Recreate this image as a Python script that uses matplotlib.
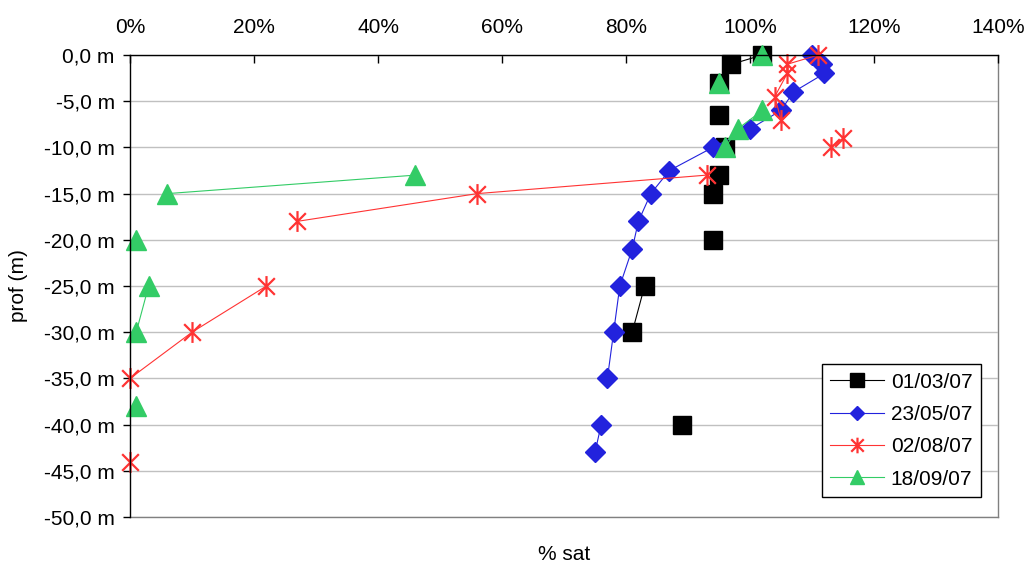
import numpy as np
import matplotlib
matplotlib.use("Agg")
import matplotlib.pyplot as plt
from matplotlib.path import Path
from matplotlib.ticker import FuncFormatter, MultipleLocator

plt.rcParams['font.family'] = ['Liberation Sans', 'DejaVu Sans']

nan = np.nan

# 01/03/07  (nan = trou dans la serie)
prof_1 = [0, -1, -3, nan, -6.5, nan, -10, nan, -13, -15, nan, -20, nan, -25, -30, nan, -40]
sat_1 = [1.02, 0.97, 0.95, nan, 0.95, nan, 0.96, nan, 0.95, 0.94, nan, 0.94, nan, 0.83, 0.81, nan, 0.89]

# 23/05/07
prof_2 = [0, -1, -2, -4, -6, -8, -10, -12.5, -15, -18, -21, -25, -30, -35, nan, -40, -43]
sat_2 = [1.10, 1.116, 1.12, 1.07, 1.05, 1.00, 0.94, 0.87, 0.84, 0.82, 0.81, 0.79, 0.78, 0.77, nan, 0.76, 0.75]

# 02/08/07
prof_3 = [0, -1, -2, -4.5, -7, nan, -9, -10, nan, -13, -15, -18, nan, -25, -30, -35, nan, -44]
sat_3 = [1.11, 1.06, 1.06, 1.04, 1.05, nan, 1.15, 1.13, nan, 0.93, 0.56, 0.27, nan, 0.22, 0.10, 0.0, nan, 0.0]

# 18/09/07
prof_4 = [0, nan, -3, nan, -6, -8, -10, nan, -13, -15, nan, -20, nan, -25, -30, nan, -38]
sat_4 = [1.02, nan, 0.95, nan, 1.02, 0.98, 0.96, nan, 0.46, 0.06, nan, 0.01, nan, 0.03, 0.01, nan, 0.01]

labels = ["01/03/07", "23/05/07", "02/08/07", "18/09/07"]

# marqueur etoile facon Excel
etoile = Path([(0, -1), (0, 1), (-0.8, -0.8), (0.8, 0.8), (-0.8, 0.8), (0.8, -0.8)],
              [Path.MOVETO, Path.LINETO, Path.MOVETO, Path.LINETO, Path.MOVETO, Path.LINETO])

fig = plt.figure(figsize=(10.28, 5.66), dpi=100)
ax = fig.add_axes([0.1265, 0.0866, 0.8443, 0.8162])

ax.plot(sat_1, prof_1, '-', color='black', lw=0.8, marker='s', ms=13.5,
        mfc='black', mec='black', label=labels[0], clip_on=False)
ax.plot(sat_2, prof_2, '-', color='#2222DD', lw=0.8, marker='D', ms=10,
        mfc='#2222DD', mec='#2222DD', label=labels[1], clip_on=False)
ax.plot(sat_3, prof_3, '-', color='#FF3333', lw=0.8, marker=etoile, ms=15,
        mew=1.6, mfc='#FF3333', mec='#FF3333', label=labels[2], clip_on=False)
ax.plot(sat_4, prof_4, '-', color='#33CC66', lw=0.8, marker='^', ms=14,
        mfc='#33CC66', mec='#33CC66', label=labels[3], clip_on=False)

ax.set_xlim(0, 1.4)
ax.set_ylim(-50, 0)
ax.xaxis.set_major_locator(MultipleLocator(0.2))
ax.yaxis.set_major_locator(MultipleLocator(5))
ax.xaxis.set_major_formatter(FuncFormatter(lambda v, p: "%d%%" % round(v * 100)))
ax.yaxis.set_major_formatter(FuncFormatter(lambda v, p: ("%.1f m" % v).replace(".", ",")))

ax.xaxis.tick_top()
ax.tick_params(axis='x', direction='in', length=6, width=1, pad=13, labelsize=15)
ax.tick_params(axis='y', direction='out', length=5, width=1, pad=6, labelsize=15)

ax.grid(axis='y', color='#C0C0C0', lw=1)
ax.set_axisbelow(True)

ax.spines['left'].set_color('black')
ax.spines['top'].set_color('black')
ax.spines['right'].set_color('#808080')
ax.spines['bottom'].set_color('#808080')
for s in ax.spines.values():
    s.set_linewidth(1)
ax.spines['right'].set_zorder(0.5)
ax.spines['bottom'].set_zorder(0.5)

ax.xaxis.set_label_position('bottom')
ax.set_xlabel("% sat", fontsize=15, labelpad=20)
ax.set_ylabel("prof (m)", fontsize=15)
ax.yaxis.set_label_coords(-0.118, 0.5)

leg = ax.legend(loc='lower right', bbox_to_anchor=(0.980, 0.043), borderaxespad=0,
                fontsize=15, fancybox=False, framealpha=1, edgecolor='black',
                markerscale=0.75, handlelength=2.6, labelspacing=0.64,
                handletextpad=0.3, borderpad=0.4)
leg.get_frame().set_linewidth(1)
leg.set_zorder(5)

fig.savefig("out.png", dpi=100)
